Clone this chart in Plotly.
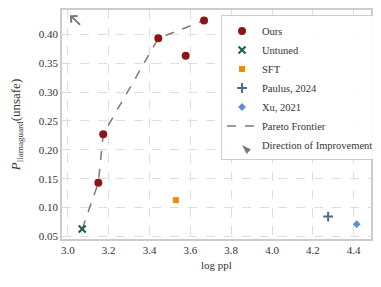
import plotly.graph_objects as go

ours_x = [3.149, 3.173, 3.443, 3.577, 3.667]
ours_y = [0.143, 0.227, 0.393, 0.363, 0.424]
untuned_x = [3.07]
untuned_y = [0.063]
sft_x = [3.529]
sft_y = [0.113]
paulus_x = [4.275]
paulus_y = [0.0845]
xu_x = [4.415]
xu_y = [0.0712]
pareto_x = [3.07, 3.149, 3.173, 3.443, 3.667]
pareto_y = [0.063, 0.143, 0.227, 0.393, 0.424]
x_ticks = [3.0, 3.2, 3.4, 3.6, 3.8, 4.0, 4.2, 4.4]
y_ticks = [0.05, 0.10, 0.15, 0.20, 0.25, 0.30, 0.35, 0.40]

FONT = "Liberation Serif, DejaVu Serif, serif"
GRAY = "#7a7a7a"

fig = go.Figure()
fig.add_trace(go.Scatter(x=pareto_x, y=pareto_y, mode="lines", name="Pareto Frontier",
                         line=dict(color=GRAY, width=1.5, dash="dash"), legendrank=6))
fig.add_trace(go.Scatter(x=ours_x, y=ours_y, mode="markers", name="Ours",
                         marker=dict(color="#8c1515", size=8, symbol="circle"), legendrank=1))
fig.add_trace(go.Scatter(x=untuned_x, y=untuned_y, mode="markers", name="Untuned",
                         marker=dict(color="#1f5f55", size=7, symbol="x-thin",
                                     line=dict(color="#1f5f55", width=2.2)), legendrank=2))
fig.add_trace(go.Scatter(x=sft_x, y=sft_y, mode="markers", name="SFT",
                         marker=dict(color="#ef8a0c", size=6, symbol="square"), legendrank=3))
fig.add_trace(go.Scatter(x=paulus_x, y=paulus_y, mode="markers", name="Paulus, 2024",
                         marker=dict(color="#4f6a8f", size=7, symbol="cross-thin",
                                     line=dict(color="#4f6a8f", width=2)), legendrank=4))
fig.add_trace(go.Scatter(x=xu_x, y=xu_y, mode="markers", name="Xu, 2021",
                         marker=dict(color="#5b8fd2", size=6, symbol="diamond"), legendrank=5))
fig.add_trace(go.Scatter(x=[None], y=[None], mode="markers", name="Direction of Improvement",
                         marker=dict(color=GRAY, size=10, symbol="arrow", angle=-45), legendrank=7))

fig.add_annotation(x=3.01, y=0.433, ax=3.067, ay=0.414, xref="x", yref="y",
                   axref="x", ayref="y", showarrow=True, arrowhead=4, arrowsize=1,
                   arrowwidth=1.8, arrowcolor=GRAY, text="")

# page body adds an 8px offset, so the figure is 8px smaller and margins shifted
fig.update_layout(
    template="none",
    width=373, height=279,
    margin=dict(l=54, r=10, t=1.5, b=47.5, autoexpand=False),
    paper_bgcolor="white", plot_bgcolor="white",
    font=dict(family=FONT, size=11, color="#333333"),
    showlegend=True,
    legend=dict(x=1.026, y=0.976, xanchor="right", yanchor="top",
                bgcolor="rgba(255,255,255,0.92)", bordercolor="#cccccc", borderwidth=1,
                font=dict(family=FONT, size=10.5, color="#333333"),
                tracegroupgap=0),
)
fig.update_xaxes(range=[2.971, 4.485], tickvals=x_ticks, ticktext=[f"{v:.1f}" for v in x_ticks],
                 showgrid=True, gridcolor="#dddddd", griddash="dash", gridwidth=1,
                 showline=True, linecolor="#cccccc", linewidth=1.5, mirror=True,
                 zeroline=False, ticks="", automargin=False,
                 title=dict(text="log ppl", font=dict(size=11), standoff=6))
fig.update_yaxes(range=[0.0457, 0.442], tickvals=y_ticks, ticktext=[f"{v:.2f}" for v in y_ticks],
                 showgrid=True, gridcolor="#dddddd", griddash="dash", gridwidth=1,
                 showline=True, linecolor="#cccccc", linewidth=1.5, mirror=True,
                 zeroline=False, ticks="", automargin=False,
                 title=dict(text="<i>P</i><sub>llamaguard</sub>(unsafe)", font=dict(size=13), standoff=17))

fig.write_html("out.html")
